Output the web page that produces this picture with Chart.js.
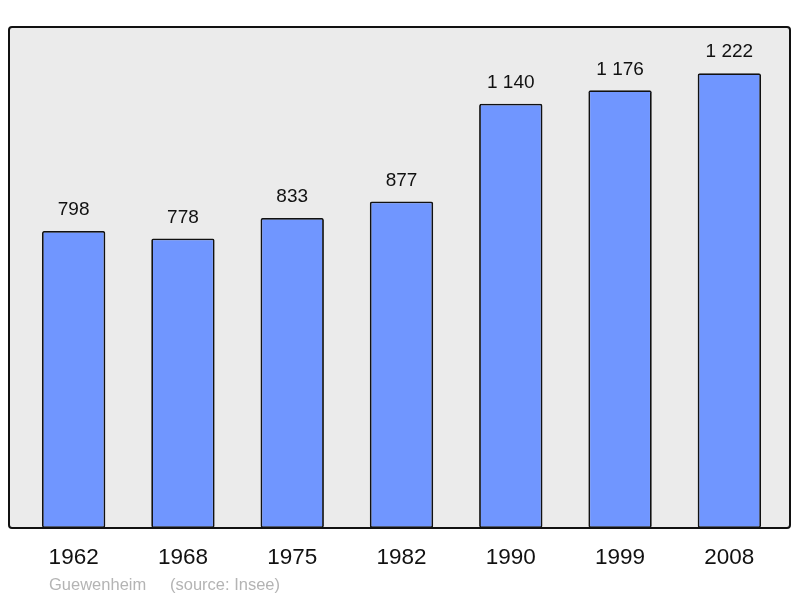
<!DOCTYPE html>
<html>
<head>
<meta charset="utf-8">
<script src="https://cdn.jsdelivr.net/npm/chart.js@4/dist/chart.umd.min.js"></script>
<style>
  body { margin: 0; background: #fff; }
  #wrap { width: 800px; height: 598px; }
</style>
</head>
<body>
<div id="wrap"><canvas id="pop"></canvas></div>
<script>
var annees = ["1962", "1968", "1975", "1982", "1990", "1999", "2008"];
var habitants = [798, 778, 833, 877, 1140, 1176, 1222];
var commune = "Guewenheim";
var source = "(source: Insee)";

function formate(n) {
    return String(n).replace(/\B(?=(\d{3})+(?!\d))/g, " ");
}

const cadre = {
    id: 'cadre',
    beforeDraw(chart) {
        const a = chart.chartArea, ctx = chart.ctx;
        ctx.save();
        ctx.beginPath();
        ctx.roundRect(a.left - 10, a.top, a.right - a.left + 16, a.bottom - a.top, 3);
        ctx.fillStyle = '#ebebeb';
        ctx.fill();
        ctx.restore();
    },
    afterDatasetsDraw(chart) {
        const a = chart.chartArea, ctx = chart.ctx;
        ctx.save();
        ctx.beginPath();
        ctx.roundRect(a.left - 10, a.top, a.right - a.left + 16, a.bottom - a.top, 3);
        ctx.lineWidth = 2;
        ctx.strokeStyle = '#111';
        ctx.stroke();

        ctx.font = '19px "Liberation Sans", Arial, sans-serif';
        ctx.fillStyle = '#111';
        ctx.textAlign = 'center';
        ctx.textBaseline = 'middle';
        chart.getDatasetMeta(0).data.forEach(function (bar, i) {
            ctx.fillText(formate(habitants[i]), bar.x, bar.y - 21);
        });

        // pied de page
        ctx.font = '16.5px "Liberation Sans", Arial, sans-serif';
        ctx.fillStyle = '#b4b4b4';
        ctx.textAlign = 'left';
        ctx.fillText(commune, 49, 585);
        ctx.fillText(source, 170, 585);
        ctx.restore();
    }
};

new Chart(document.getElementById('pop').getContext('2d'), {
    type: 'bar',
    data: {
        labels: annees,
        datasets: [{
            data: habitants,
            backgroundColor: '#7096ff',
            borderColor: '#111',
            borderWidth: 1.8,
            borderRadius: 2,
            borderSkipped: false,
            barPercentage: 0.58,
            categoryPercentage: 1
        }]
    },
    options: {
        responsive: true,
        maintainAspectRatio: false,
        animation: false,
        layout: { padding: { left: 19, right: 16, top: 27, bottom: 0 } },
        plugins: { legend: { display: false }, tooltip: { enabled: false } },
        scales: {
            x: {
                grid: { display: false, drawTicks: false },
                border: { display: false },
                ticks: {
                    color: '#111',
                    padding: 16,
                    font: { size: 22.5, family: '"Liberation Sans", Arial, sans-serif' }
                },
                afterFit: function (s) { s.height = 70; }
            },
            y: { display: false, min: 0, max: 1346 }
        }
    },
    plugins: [cadre]
});
</script>
</body>
</html>
